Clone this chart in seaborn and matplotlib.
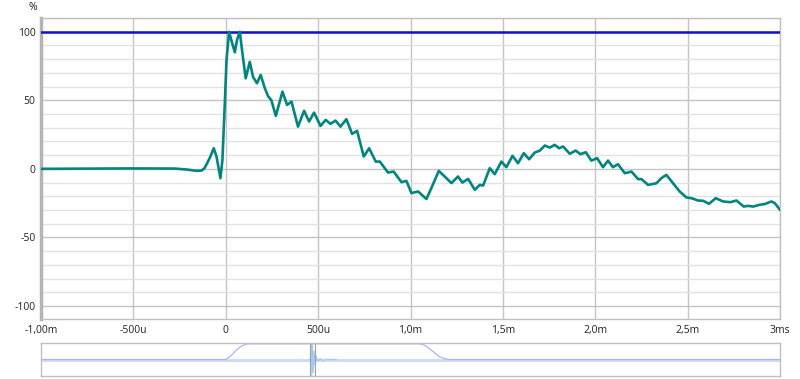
import matplotlib
matplotlib.use("Agg")
import matplotlib.pyplot as plt
import seaborn as sns
import pandas as pd
from matplotlib.ticker import MultipleLocator, FixedLocator

# ---- data ----
time_ms = [-1.0, -0.52, -0.276, -0.211, -0.157, -0.130, -0.114, -0.087, -0.065, -0.050,
           -0.029, -0.018, -0.005, 0.004, 0.018, 0.034, 0.049, 0.061, 0.076, 0.090,
           0.108, 0.130, 0.148, 0.169, 0.189, 0.211, 0.229, 0.247, 0.271, 0.307,
           0.332, 0.356, 0.391, 0.424, 0.451, 0.478, 0.513, 0.541, 0.567, 0.594,
           0.621, 0.653, 0.684, 0.711, 0.747, 0.776, 0.812, 0.834, 0.878, 0.909,
           0.951, 0.978, 1.005, 1.041, 1.086, 1.113, 1.153, 1.185, 1.222, 1.257,
           1.281, 1.312, 1.348, 1.375, 1.393, 1.429, 1.456, 1.492, 1.519, 1.552,
           1.582, 1.613, 1.642, 1.673, 1.700, 1.727, 1.754, 1.781, 1.804, 1.826,
           1.862, 1.894, 1.920, 1.949, 1.979, 2.010, 2.042, 2.069, 2.096, 2.123,
           2.160, 2.196, 2.232, 2.250, 2.286, 2.331, 2.358, 2.385, 2.421, 2.457,
           2.494, 2.521, 2.556, 2.584, 2.616, 2.652, 2.692, 2.732, 2.764, 2.804,
           2.827, 2.854, 2.890, 2.917, 2.954, 2.972, 3.0]
step_pct = [0.0, 0.3, 0.2, -0.5, -1.5, -1.2, 0.7, 7.8, 15.0, 9.0,
            -6.8, 6.5, 48.0, 79.0, 100.0, 92.0, 85.0, 94.0, 100.0, 84.5,
            66.0, 78.0, 67.0, 62.4, 68.5, 59.0, 53.0, 50.0, 38.6, 56.3,
            46.6, 49.0, 30.8, 42.3, 34.5, 41.0, 31.3, 35.7, 32.8, 35.2,
            30.8, 36.2, 25.5, 27.7, 9.0, 15.0, 5.3, 5.3, -2.7, -2.0,
            -9.7, -8.8, -17.7, -16.5, -22.0, -14.0, -1.5, -5.6, -10.4, -5.6,
            -10.0, -7.3, -15.3, -11.7, -12.2, 0.5, -3.9, 5.3, 1.2, 9.5,
            4.1, 11.4, 7.0, 11.9, 13.3, 17.0, 15.5, 17.5, 15.0, 16.3,
            11.0, 13.3, 10.7, 12.1, 6.0, 7.8, 1.2, 6.0, 1.2, 3.4,
            -3.2, -2.0, -7.5, -7.5, -11.7, -10.5, -6.8, -4.4, -10.5, -16.5,
            -20.9, -21.4, -23.1, -23.3, -25.5, -21.4, -23.8, -24.3, -23.1, -27.5,
            -27.0, -27.5, -26.2, -25.7, -23.8, -25.0, -29.9]
ref_time = [-1.0, 3.0]
ref_pct = [100, 100]

x_ticks = [-1.0, -0.5, 0.0, 0.5, 1.0, 1.5, 2.0, 2.5, 3.0]
x_labels = ["-1,00m", "-500u", "0", "500u", "1,0m", "1,5m", "2,0m", "2,5m", "3ms"]
y_ticks = [-100, -50, 0, 50, 100]
y_labels = ["-100", "-50", "0", "50", "100"]

# overview strip data
base_t = [-1.0, 3.0]
base_v = [0.0, 0.0]
win_t = [-1.0, 0.0, 0.03, 0.06, 0.09, 0.12, 1.05, 1.08, 1.12, 1.16, 1.2, 3.0]
win_v = [0.0, 0.0, 0.25, 0.6, 0.85, 0.95, 0.95, 0.85, 0.5, 0.15, 0.0, 0.0]
imp_t = [0.450, 0.458, 0.462, 0.466, 0.470, 0.474, 0.478, 0.484, 0.490, 0.500, 0.510, 0.525, 0.545, 0.6]
imp_v = [0.0, 0.0, 1.0, -1.0, 0.9, -0.8, 0.5, -0.35, 0.2, -0.12, 0.08, -0.05, 0.02, 0.0]
marker_t = [0.455, 0.482]

# ---- style ----
sns.set_theme(style="white")
plt.rcParams["font.family"] = ["Open Sans", "DejaVu Sans"]
plt.rcParams["font.size"] = 7.5

fig = plt.figure(figsize=(8.0, 3.79), dpi=100)
ax = fig.add_axes([41/800, 1-319/379, 739/800, 301/379])
ov = fig.add_axes([41/800, 1-376/379, 739/800, 33/379])

major_c = "#c4c4c4"
minor_c = "#e2e2e2"

df = pd.DataFrame({"t": time_ms, "v": step_pct})
dref = pd.DataFrame({"t": ref_time, "v": ref_pct})
sns.lineplot(data=dref, x="t", y="v", ax=ax, color="#1010d0", linewidth=1.8, zorder=3)
sns.lineplot(data=df, x="t", y="v", ax=ax, color="#00857f", linewidth=1.9, zorder=4,
             solid_joinstyle="round", solid_capstyle="round")

ax.set_xlim(-1.0, 3.0)
ax.set_ylim(-109.5, 110)
ax.xaxis.set_major_locator(FixedLocator(x_ticks))
ax.set_xticklabels(x_labels)
ax.yaxis.set_major_locator(FixedLocator(y_ticks))
ax.set_yticklabels(y_labels)
ax.yaxis.set_minor_locator(MultipleLocator(10))
ax.grid(which="major", color=major_c, linewidth=1.0)
ax.grid(which="minor", axis="y", color=minor_c, linewidth=1.0)
ax.set_axisbelow(True)
ax.tick_params(which="both", length=0, pad=4, labelsize=7.5, colors="#222222")
ax.set_xlabel("")
ax.set_ylabel("")
for s in ["top", "right", "bottom"]:
    ax.spines[s].set_color("#c0c0c0")
    ax.spines[s].set_linewidth(1.0)
ax.spines["left"].set_color("#b4b4b4")
ax.spines["left"].set_linewidth(2.5)
fig.text(33/800, 1-8/379, "%", ha="center", va="center", fontsize=7.5, color="#222222")

# overview
dbase = pd.DataFrame({"t": base_t, "v": base_v})
dwin = pd.DataFrame({"t": win_t, "v": win_v})
dimp = pd.DataFrame({"t": imp_t, "v": imp_v})
sns.lineplot(data=dbase, x="t", y="v", ax=ov, color="#c8dcf4", linewidth=2.0)
sns.lineplot(data=dwin, x="t", y="v", ax=ov, color="#b4b0f0", linewidth=0.9)
sns.lineplot(data=dimp, x="t", y="v", ax=ov, color="#a8c8f0", linewidth=0.8)
for mt in marker_t:
    ov.axvline(mt, color="#a0a0a0", linewidth=0.8)
ov.set_xlim(-1.0, 3.0)
ov.set_ylim(-1.0, 1.0)
ov.set_xticks([])
ov.set_yticks([])
ov.set_xlabel("")
ov.set_ylabel("")
for s in ov.spines.values():
    s.set_color("#c0c0c0")
    s.set_linewidth(1.0)

fig.savefig("out.png", dpi=100)
